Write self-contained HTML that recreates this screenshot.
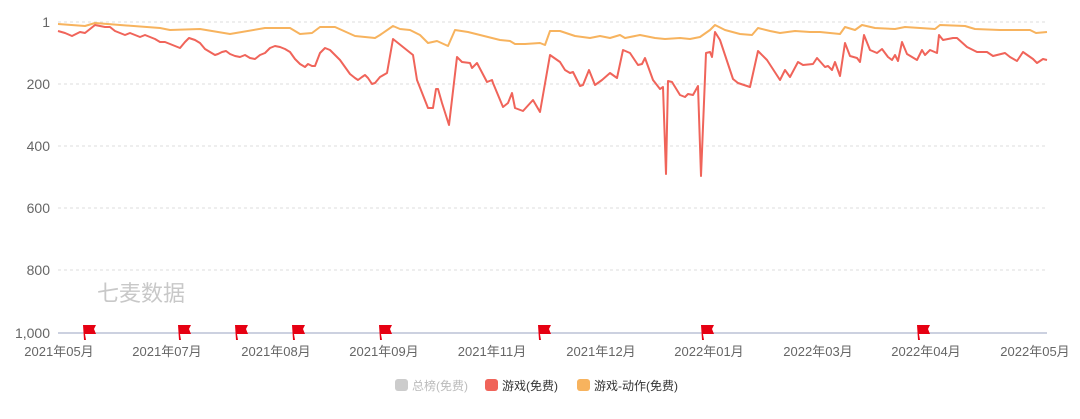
<!DOCTYPE html>
<html><head><meta charset="utf-8"><style>
body{margin:0;background:#fff;}
svg{display:block;font-family:"Liberation Sans","Noto Sans CJK SC",sans-serif;}
</style></head><body>
<svg width="1080" height="419" viewBox="0 0 1080 419">
<g stroke="#ddd" stroke-dasharray="3,3" stroke-width="1">
<line x1="58" x2="1047" y1="22" y2="22"/><line x1="58" x2="1047" y1="84" y2="84"/>
<line x1="58" x2="1047" y1="146" y2="146"/><line x1="58" x2="1047" y1="208" y2="208"/>
<line x1="58" x2="1047" y1="270" y2="270"/></g>
<line x1="58" x2="1047" y1="333" y2="333" stroke="#9aa3c0" stroke-width="1"/>
<g fill="#666" font-size="14" text-anchor="end">
<text x="50" y="27">1</text><text x="50" y="89">200</text><text x="50" y="151">400</text>
<text x="50" y="213">600</text><text x="50" y="275">800</text><text x="50" y="338">1,000</text></g>
<g fill="#666" font-size="13" text-anchor="middle">
<text x="59" y="356">2021年05月</text><text x="167" y="356">2021年07月</text><text x="276" y="356">2021年08月</text>
<text x="384" y="356">2021年09月</text><text x="492" y="356">2021年11月</text><text x="601" y="356">2021年12月</text>
<text x="709" y="356">2022年01月</text><text x="818" y="356">2022年03月</text><text x="926" y="356">2022年04月</text>
<text x="1035" y="356">2022年05月</text></g>
<text x="97" y="301" font-size="22" fill="#c8c8c8">七麦数据</text>
<polyline fill="none" stroke="#f7b35e" stroke-width="2" stroke-linejoin="round" points="58,24 85,26 95,23 120,25 160,28 170,30 200,29 230,34 265,28 290,28 300,34 312,33 320,27 335,27 355,36 375,38 380,35 393,26 400,29 410,30 420,35 428,43 437,41 448,46 455,30 468,32 480,35 500,40 510,41 515,44 525,44 540,43 545,45 550,31 560,31 575,36 590,38 600,36 610,38 620,35 625,38 640,35 655,38 665,39 680,38 690,39 700,37 710,30 715,25 725,30 740,34 752,35 758,28 770,31 780,33 795,31 810,32 820,32 840,34 845,27 855,30 862,25 875,28 895,29 905,27 935,29 940,25 965,26 975,29 1000,30 1030,30 1036,33 1047,32"/>
<polyline fill="none" stroke="#f0645a" stroke-width="2" stroke-linejoin="round" points="58,31 65,33 72,36 76,34 80,32 85,33 90,29 95,25 100,26 105,27 110,27 115,31 120,33 125,35 130,33 135,35 140,37 145,35 150,37 155,39 160,42 165,42 170,44 175,46 180,48 185,42 189,38 195,40 200,43 205,49 210,52 215,55 218,54 222,52 226,51 230,54 235,56 240,57 245,55 250,58 255,59 260,55 265,53 270,48 275,46 280,47 285,49 290,52 295,59 300,64 305,67 308,64 312,66 315,66 320,53 325,48 330,50 335,55 340,60 345,67 350,74 355,78 358,80 362,77 365,75 368,78 372,84 375,83 380,77 387,73 393,39 413,55 417,80 428,108 433,108 436,89 438,89 442,103 449,125 457,57 462,62 470,63 472,68 477,63 487,82 492,80 493,83 503,107 508,103 512,93 515,108 523,111 533,100 540,112 550,55 560,62 565,70 570,73 573,72 580,86 583,85 589,70 595,85 602,80 610,73 617,78 623,50 630,53 638,65 642,64 645,58 653,80 660,89 663,87 666,174 668,81 672,82 680,95 685,97 688,94 693,95 698,86 701,176 706,53 710,52 712,57 715,32 720,40 733,79 738,83 750,87 758,51 767,60 780,80 785,70 790,77 798,62 803,65 813,64 817,58 825,67 828,66 832,70 835,62 840,76 845,43 850,56 857,58 860,62 864,35 870,50 877,53 882,49 888,57 892,60 895,55 898,61 902,42 907,54 917,60 922,50 925,55 930,50 937,53 939,35 943,40 953,38 957,38 967,47 977,52 987,52 993,56 1005,53 1010,57 1017,61 1023,52 1033,59 1037,63 1043,59 1047,60"/>
<g fill="#e60012">
<path d="M83,325 L96,325 L94,329 L96,334 L85,334 L86,340 L84,340 Z"/>
<path d="M178,325 L191,325 L189,329 L191,334 L180,334 L181,340 L179,340 Z"/>
<path d="M235,325 L248,325 L246,329 L248,334 L237,334 L238,340 L236,340 Z"/>
<path d="M292,325 L305,325 L303,329 L305,334 L294,334 L295,340 L293,340 Z"/>
<path d="M379,325 L392,325 L390,329 L392,334 L381,334 L382,340 L380,340 Z"/>
<path d="M538,325 L551,325 L549,329 L551,334 L540,334 L541,340 L539,340 Z"/>
<path d="M701,325 L714,325 L712,329 L714,334 L703,334 L704,340 L702,340 Z"/>
<path d="M917,325 L930,325 L928,329 L930,334 L919,334 L920,340 L918,340 Z"/>
</g>
<rect x="395" y="379" width="13" height="12" rx="3" fill="#ccc"/>
<text x="412" y="390" font-size="12" fill="#bbb">总榜(免费)</text>
<rect x="485" y="379" width="13" height="12" rx="3" fill="#f0645a"/>
<text x="502" y="390" font-size="12" fill="#333">游戏(免费)</text>
<rect x="577" y="379" width="13" height="12" rx="3" fill="#f7b35e"/>
<text x="594" y="390" font-size="12" fill="#333">游戏-动作(免费)</text>
</svg>
</body></html>
